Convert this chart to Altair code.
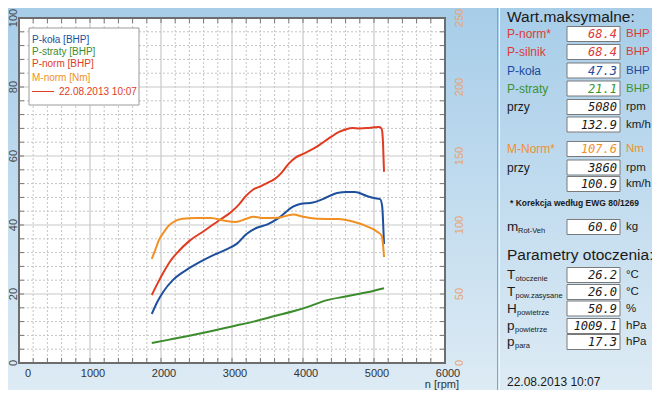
import altair as alt
import pandas as pd

# ---------------- data ----------------
pnorm_rpm = [1870, 1950, 2030, 2130, 2230, 2400, 2600, 2800, 3000, 3100, 3200, 3300, 3400, 3500,
             3600, 3700, 3800, 3900, 4000, 4100, 4200, 4300, 4400, 4500, 4600, 4700, 4800, 4900,
             5000, 5080, 5110, 5127, 5141]
pnorm_val = [19.7, 23.0, 26.1, 29.5, 32.0, 35.4, 38.2, 41.1, 44.0, 46.0, 48.5, 50.3, 51.2, 52.2,
             53.3, 55.2, 57.8, 59.6, 60.6, 61.6, 62.8, 64.2, 65.6, 66.9, 67.7, 68.1, 68.0, 68.1,
             68.3, 68.4, 67.8, 63.8, 55.4]

pkola_rpm = [1870, 1940, 2030, 2170, 2360, 2550, 2730, 2930, 3070, 3200, 3350, 3500, 3650, 3860,
             3960, 4140, 4280, 4480, 4620, 4730, 4900, 5000, 5085, 5115, 5130, 5141]
pkola_val = [14.2, 17.4, 20.6, 24.1, 27.0, 29.3, 31.2, 33.0, 34.6, 37.3, 39.2, 40.2, 41.9, 45.3,
             46.1, 46.5, 47.5, 49.3, 49.6, 49.6, 48.4, 47.8, 47.5, 45.5, 40.0, 34.5]

pstraty_rpm = [1870, 2100, 2400, 2700, 3000, 3300, 3600, 3900, 4100, 4300, 4600, 4900, 5141]
pstraty_val = [5.8, 6.7, 7.9, 9.2, 10.6, 12.0, 13.6, 15.2, 16.5, 18.0, 19.3, 20.5, 21.7]

mnorm_rpm = [1870, 1920, 1970, 2030, 2100, 2170, 2300, 2500, 2700, 2900, 3050, 3200, 3300, 3450,
             3650, 3860, 4000, 4200, 4500, 4700, 4900, 5050, 5110, 5127, 5141]
mnorm_val = [75.5, 82.0, 89.0, 94.0, 99.0, 102.0, 104.5, 105.0, 105.0, 103.0, 102.2, 104.5, 106.0,
             105.0, 105.3, 107.6, 106.0, 104.5, 104.3, 102.5, 99.0, 95.0, 92.0, 86.0, 76.8]

series_names = ["P-koła [BHP]", "P-straty [BHP]", "P-norm [BHP]", "M-norm [Nm]"]
series_colors = ["#1d4f9d", "#3c8b2c", "#e03c22", "#f28f22"]
legend_date = "22.08.2013 10:07"

x_ticks = [0, 1000, 2000, 3000, 4000, 5000, 6000]
y_left_ticks = [0, 20, 40, 60, 80, 100]
y_right_ticks = [0, 50, 100, 150, 200, 250]
x_title = "n [rpm]"

# right panel contents
max_labels = ["P-norm*", "P-silnik", "P-koła", "P-straty", "przy", "", "M-Norm*", "przy", ""]
max_values = ["68.4", "68.4", "47.3", "21.1", "5080", "132.9", "107.6", "3860", "100.9"]
max_units = ["BHP", "BHP", "BHP", "BHP", "rpm", "km/h", "Nm", "rpm", "km/h"]
max_colors = ["#dc3b36", "#dc3b36", "#1f4aa0", "#3c9230", "#1a1a1a", "#1a1a1a", "#f0902e",
              "#1a1a1a", "#1a1a1a"]
mrot_value = "60.0"
env_main = ["T", "T", "H", "p", "p"]
env_sub = ["otoczenie", "pow.zasysane", "powietrze", "powietrze", "para"]
env_values = ["26.2", "26.0", "50.9", "1009.1", "17.3"]
env_units = ["°C", "°C", "%", "hPa", "hPa"]
footer_date = "22.08.2013  10:07"

# ---------------- layout ----------------
W, H = 426, 345
OX, OY = 19, 18          # page position of the plot origin
TOTAL_W, TOTAL_H = 644, 382
FONT = "Liberation Sans"


def px(v):
    return v - OX


def py(v):
    return v - OY


xscale = alt.Scale(domain=[0, 6000], nice=False, zero=False)
yscale = alt.Scale(domain=[0, 100], nice=False, zero=False)
tscale = alt.Scale(domain=[0, 250], nice=False, zero=False)

one = alt.Data(values=[{}])

# background gradient
grad = alt.LinearGradient(gradient="linear", x1=0, y1=0, x2=0, y2=1,
                          stops=[alt.GradientStop(offset=0, color="#a7cde9"),
                                 alt.GradientStop(offset=1, color="#e1edf5")])
bg = alt.Chart(one).mark_rect(fill=grad).encode(
    x=alt.value(-OX + 8), x2=alt.value(660), y=alt.value(-OY + 8), y2=alt.value(400))

sep1 = alt.Chart(one).mark_rule(color="#86a3bb", strokeWidth=1).encode(
    x=alt.value(px(497.5)), y=alt.value(-20), y2=alt.value(400))
sep2 = alt.Chart(one).mark_rule(color="#eef5fb", strokeWidth=1).encode(
    x=alt.value(px(499.5)), y=alt.value(-20), y2=alt.value(400))

plotbg = alt.Chart(one).mark_rect(fill="white").encode(
    x=alt.value(0), x2=alt.value(W), y=alt.value(0), y2=alt.value(H))

# grid
gx_minor = pd.DataFrame({"g": [v for v in range(200, 6000, 200) if v % 1000]})
gx_major = pd.DataFrame({"g": [v for v in range(1000, 6000, 1000)]})
gx_all = pd.DataFrame({"g": list(range(200, 6000, 200))})
gy_minor = pd.DataFrame({"g": [v for v in range(4, 100, 4) if v % 20]})
gy_major = pd.DataFrame({"g": [v for v in range(20, 100, 20)]})
gy_all = pd.DataFrame({"g": list(range(4, 100, 4))})

vgrid_minor = alt.Chart(gx_minor).mark_rule(color="#c4c4c4", strokeDash=[2, 2], strokeWidth=1).encode(
    x=alt.X("g:Q", scale=xscale, axis=None), y=alt.value(0), y2=alt.value(H))
vgrid_major = alt.Chart(gx_major).mark_rule(color="#c8c8c8", strokeWidth=1.2).encode(
    x=alt.X("g:Q", scale=xscale, axis=None), y=alt.value(0), y2=alt.value(H))
ticks_top = alt.Chart(gx_all).mark_rule(color="#777777", strokeWidth=1).encode(
    x=alt.X("g:Q", scale=xscale, axis=None), y=alt.value(0), y2=alt.value(5))
ticks_bot = alt.Chart(gx_all).mark_rule(color="#777777", strokeWidth=1).encode(
    x=alt.X("g:Q", scale=xscale, axis=None), y=alt.value(H - 5), y2=alt.value(H))

# x tick labels drawn through the x scale
xlab0 = alt.Chart(pd.DataFrame({"v": x_ticks[:1]})).mark_text(
    font=FONT, fontSize=11, color="#333333", baseline="middle", align="center", dx=9).encode(
    x=alt.X("v:Q", scale=xscale, axis=None), y=alt.value(py(374)), text=alt.Text("v:Q", format="d"))
xlabs = alt.Chart(pd.DataFrame({"v": x_ticks[1:]})).mark_text(
    font=FONT, fontSize=11, color="#333333", baseline="middle", align="center", dx=3).encode(
    x=alt.X("v:Q", scale=xscale, axis=None), y=alt.value(py(374)), text=alt.Text("v:Q", format="d"))

hgrid_minor = alt.Chart(gy_minor).mark_rule(color="#c4c4c4", strokeDash=[2, 2], strokeWidth=1).encode(
    y=alt.Y("g:Q", scale=yscale, axis=None), x=alt.value(0), x2=alt.value(W))
hgrid_major = alt.Chart(gy_major).mark_rule(color="#c8c8c8", strokeWidth=1.2).encode(
    y=alt.Y("g:Q", scale=yscale, axis=None), x=alt.value(0), x2=alt.value(W))
ticks_left = alt.Chart(gy_all).mark_rule(color="#777777", strokeWidth=1).encode(
    y=alt.Y("g:Q", scale=yscale, axis=None), x=alt.value(0), x2=alt.value(5))
ticks_right = alt.Chart(gy_all).mark_rule(color="#777777", strokeWidth=1).encode(
    y=alt.Y("g:Q", scale=yscale, axis=None), x=alt.value(W - 5), x2=alt.value(W))
ylabs = alt.Chart(pd.DataFrame({"v": y_left_ticks})).mark_text(
    font=FONT, fontSize=11, color="#4a4a4a", baseline="middle", align="center", angle=270).encode(
    y=alt.Y("v:Q", scale=yscale, axis=None), x=alt.value(px(13.5)), text=alt.Text("v:Q", format="d"))

border = alt.Chart(one).mark_rect(fillOpacity=0, stroke="#6d6d6d", strokeWidth=2).encode(
    x=alt.value(0), x2=alt.value(W), y=alt.value(0), y2=alt.value(H))

# power curves
power_df = pd.concat([
    pd.DataFrame({"rpm": pkola_rpm, "v": pkola_val, "s": series_names[0], "o": range(len(pkola_rpm))}),
    pd.DataFrame({"rpm": pstraty_rpm, "v": pstraty_val, "s": series_names[1], "o": range(len(pstraty_rpm))}),
    pd.DataFrame({"rpm": pnorm_rpm, "v": pnorm_val, "s": series_names[2], "o": range(len(pnorm_rpm))}),
], ignore_index=True)

power_lines = alt.Chart(power_df).mark_line(strokeWidth=2, interpolate="monotone").encode(
    x=alt.X("rpm:Q", scale=xscale, axis=None),
    y=alt.Y("v:Q", scale=yscale, axis=None),
    color=alt.Color("s:N", scale=alt.Scale(domain=series_names, range=series_colors), legend=None),
    order="o:Q",
)

power_group = alt.layer(hgrid_minor, hgrid_major, ticks_left, ticks_right, ylabs, border, power_lines)

torque_df = pd.DataFrame({"rpm": mnorm_rpm, "t": mnorm_val, "o": range(len(mnorm_rpm))})
torque_line = alt.Chart(torque_df).mark_line(strokeWidth=2, color=series_colors[3],
                                             interpolate="monotone").encode(
    x=alt.X("rpm:Q", scale=xscale, axis=None),
    y=alt.Y("t:Q", scale=tscale, axis=None),
    order="o:Q",
)
tlabs = alt.Chart(pd.DataFrame({"t": y_right_ticks})).mark_text(
    font=FONT, fontSize=11, color="#e8a571", baseline="middle", align="center", angle=270).encode(
    y=alt.Y("t:Q", scale=tscale, axis=None), x=alt.value(px(460)), text=alt.Text("t:Q", format="d"))
torque_group = alt.layer(torque_line, tlabs)

# legend box
leg_box = alt.Chart(one).mark_rect(fill="white", stroke="#9a9a9a", strokeWidth=1).encode(
    x=alt.value(px(29)), x2=alt.value(px(139)), y=alt.value(py(28)), y2=alt.value(py(105)))
leg_df = pd.DataFrame({
    "text": series_names + [legend_date],
    "c": series_colors + [series_colors[2]],
    "x": [px(32)] * 4 + [px(59)],
    "y": [py(39.5), py(51.5), py(64), py(77.5), py(91.5)],
})
leg_text = alt.Chart(leg_df).mark_text(font=FONT, fontSize=10, align="left", baseline="middle").encode(
    x=alt.X("x:Q", scale=None), y=alt.Y("y:Q", scale=None), text="text:N",
    color=alt.Color("c:N", scale=None))
leg_line = alt.Chart(one).mark_rule(color=series_colors[2], strokeWidth=1).encode(
    x=alt.value(px(32)), x2=alt.value(px(54)), y=alt.value(py(91.5)))

xtitle = alt.Chart(one).mark_text(text=x_title, font=FONT, fontSize=11, color="#333333",
                                  align="right", baseline="middle").encode(
    x=alt.value(px(459)), y=alt.value(py(384.5)))

# ---------------- right panel ----------------
row_y = [34, 52, 70.5, 88.5, 107, 124.5, 149, 167.5, 184]
env_y = [275, 292, 308.5, 326, 342]
sub_x = {"T": 515.5, "H": 517, "p": 515, "m": 518}
UX = 626

lab_rows, val_rows, unit_rows, box_rows = [], [], [], []
for i in range(len(max_values)):
    if max_labels[i]:
        lab_rows.append({"x": px(507), "y": py(row_y[i]), "text": max_labels[i], "c": max_colors[i]})
    val_rows.append({"x": px(617), "y": py(row_y[i]), "text": max_values[i], "c": max_colors[i]})
    unit_rows.append({"x": px(UX), "y": py(row_y[i]), "text": max_units[i], "c": max_colors[i]})
    box_rows.append({"x": px(567), "x2": px(620), "y": py(row_y[i] - 7.5), "y2": py(row_y[i] + 7.5)})

# mRot-Veh row
mrot_y = 227
val_rows.append({"x": px(617), "y": py(mrot_y), "text": mrot_value, "c": "#1a1a1a"})
unit_rows.append({"x": px(UX), "y": py(mrot_y), "text": "kg", "c": "#1a1a1a"})
box_rows.append({"x": px(567), "x2": px(620), "y": py(mrot_y - 7.5), "y2": py(mrot_y + 7.5)})

main_rows = [{"x": px(507), "y": py(mrot_y), "text": "m", "c": "#1a1a1a"}]
sub_rows = [{"x": px(sub_x["m"]), "y": py(mrot_y + 4), "text": "Rot-Veh", "c": "#1a1a1a"}]
for i in range(len(env_values)):
    main_rows.append({"x": px(507), "y": py(env_y[i]), "text": env_main[i], "c": "#1a1a1a"})
    sub_rows.append({"x": px(sub_x[env_main[i]]), "y": py(env_y[i] + 4), "text": env_sub[i], "c": "#1a1a1a"})
    val_rows.append({"x": px(617), "y": py(env_y[i]), "text": env_values[i], "c": "#1a1a1a"})
    unit_rows.append({"x": px(UX), "y": py(env_y[i]), "text": env_units[i], "c": "#1a1a1a"})
    box_rows.append({"x": px(567), "x2": px(620), "y": py(env_y[i] - 7.5), "y2": py(env_y[i] + 7.5)})


def text_layer(rows, **kw):
    return alt.Chart(pd.DataFrame(rows)).mark_text(baseline="middle", **kw).encode(
        x=alt.X("x:Q", scale=None), y=alt.Y("y:Q", scale=None), text="text:N",
        color=alt.Color("c:N", scale=None))


boxes = alt.Chart(pd.DataFrame(box_rows)).mark_rect(fill="white", stroke="#7a7a7a", strokeWidth=1).encode(
    x=alt.X("x:Q", scale=None), x2="x2:Q", y=alt.Y("y:Q", scale=None), y2="y2:Q")
labels = text_layer(lab_rows, font=FONT, fontSize=12, align="left")
values = text_layer(val_rows, font="DejaVu Sans Mono", fontSize=12, fontStyle="italic", align="right")
units = text_layer(unit_rows, font=FONT, fontSize=11.5, align="left")
mains = text_layer(main_rows, font=FONT, fontSize=13.5, align="left")
subs = text_layer(sub_rows, font=FONT, fontSize=7.5, align="left")

headings = text_layer([
    {"x": px(507), "y": py(16.5), "text": "Wart.maksymalne:", "c": "#1a1a1a"},
    {"x": px(507), "y": py(255), "text": "Parametry otoczenia:", "c": "#1a1a1a"},
], font=FONT, fontSize=15.5, align="left")
footnote = text_layer([{"x": px(510), "y": py(203), "text": "* Korekcja według EWG 80/1269",
                        "c": "#1a1a1a"}], font=FONT, fontSize=8.5, fontWeight="bold", align="left")
footer = text_layer([{"x": px(507), "y": py(382), "text": footer_date, "c": "#1a1a1a"}],
                    font=FONT, fontSize=12, align="left")

chart = alt.layer(
    bg, sep1, sep2, plotbg, vgrid_minor, vgrid_major, ticks_top, ticks_bot, xlab0, xlabs,
    power_group, torque_group,
    leg_box, leg_text, leg_line, xtitle,
    boxes, labels, values, units, mains, subs, headings, footnote, footer,
).resolve_scale(y="independent").properties(
    width=W, height=H,
    autosize=alt.AutoSizeParams(type="none"),
    padding={"left": OX - 8, "top": OY - 8, "right": TOTAL_W - (OX - 8) - W,
             "bottom": TOTAL_H - (OY - 8) - H},
).configure_view(stroke=None).configure(background="#e1edf5")

chart.save("out.html", embed_options={"renderer": "svg", "actions": False})
